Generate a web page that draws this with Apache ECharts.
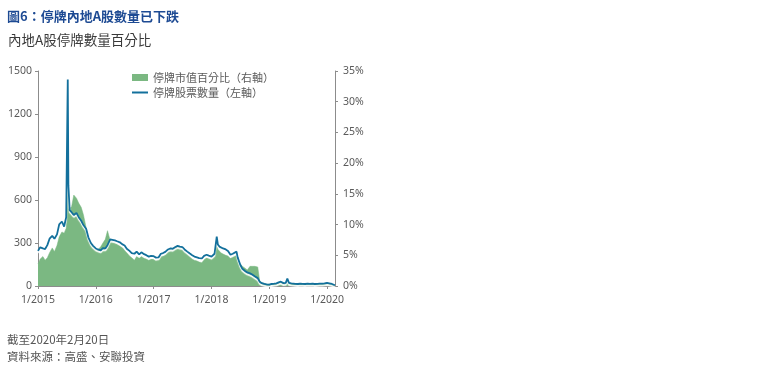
<!DOCTYPE html>
<html><head><meta charset="utf-8">
<script src="https://cdn.jsdelivr.net/npm/echarts@6/dist/echarts.min.js"></script>
<style>html,body{margin:0;padding:0;background:#fff}#c{width:760px;height:375px}</style>
</head><body><div id="c"></div>
<script>
const titleText = '圖6：停牌內地A股數量已下跌';
const subtitleText = '內地A股停牌數量百分比';
const note1 = '截至2020年2月20日';
const note2 = '資料來源：高盛、安聯投資';
const seriesNames = ['停牌市值百分比（右軸）', '停牌股票數量（左軸）'];

const dates = [
'2015-01-01','2015-01-15','2015-02-01','2015-02-15','2015-03-01','2015-03-15','2015-04-01','2015-04-15','2015-05-01','2015-05-15','2015-06-01','2015-06-15','2015-06-28','2015-07-08','2015-07-12','2015-07-20','2015-08-01','2015-08-15','2015-09-01','2015-09-15','2015-10-01','2015-10-15','2015-11-01','2015-11-15','2015-12-01','2015-12-15',
'2016-01-01','2016-01-15','2016-02-01','2016-02-15','2016-03-01','2016-03-15','2016-04-01','2016-04-15','2016-05-01','2016-05-15','2016-06-01','2016-06-15','2016-07-01','2016-07-15','2016-08-01','2016-08-15','2016-09-01','2016-09-15','2016-10-01','2016-10-15','2016-11-01','2016-11-15','2016-12-01','2016-12-15',
'2017-01-01','2017-01-15','2017-02-01','2017-02-15','2017-03-01','2017-03-15','2017-04-01','2017-04-15','2017-05-01','2017-05-15','2017-06-01','2017-06-15','2017-07-01','2017-07-15','2017-08-01','2017-08-15','2017-09-01','2017-09-15','2017-10-01','2017-10-15','2017-11-01','2017-11-15','2017-12-01','2017-12-15',
'2018-01-01','2018-01-20','2018-02-03','2018-02-10','2018-02-20','2018-03-01','2018-03-15','2018-04-01','2018-04-15','2018-05-01','2018-05-15','2018-06-08','2018-06-15','2018-07-01','2018-07-15','2018-08-01','2018-08-15','2018-09-01','2018-09-15','2018-10-01','2018-10-20','2018-11-01','2018-11-15','2018-12-01','2018-12-15',
'2019-01-01','2019-01-15','2019-02-01','2019-02-15','2019-03-01','2019-03-15','2019-04-01','2019-04-15','2019-04-25','2019-05-05','2019-05-20','2019-06-01','2019-06-15','2019-07-01','2019-07-15','2019-08-01','2019-08-15','2019-09-01','2019-09-15','2019-10-01','2019-10-15','2019-11-01','2019-11-15','2019-12-01','2019-12-15',
'2020-01-01','2020-01-15','2020-02-01','2020-02-10','2020-02-20'
];

const suspendedCount = [
245,270,262,258,285,330,350,330,360,430,450,415,480,1441,700,530,515,495,510,480,455,425,400,340,300,280,
262,255,248,265,262,285,325,322,318,312,305,292,283,260,245,230,225,240,220,235,222,215,205,210,
208,198,200,225,230,238,255,262,260,270,280,275,272,255,240,228,215,205,200,195,192,210,218,212,
205,225,345,290,275,268,262,255,245,218,225,240,200,150,120,105,95,88,80,68,55,30,20,15,12,
10,14,16,18,25,30,20,22,52,22,18,16,15,14,17,15,14,16,15,16,14,15,16,17,18,
21,18,14,12,5
];

const suspendedPct = [
3.6,4.4,4.8,4.2,4.6,5.4,6.2,5.6,6.6,8.0,8.8,8.6,9.4,15.6,12.5,12.2,12.9,14.8,14.3,13.5,12.8,11.6,9.5,7.6,6.6,6.2,
5.8,5.9,6.4,7.0,7.6,9.0,7.4,7.3,7.0,6.8,6.5,6.3,5.8,5.4,4.9,4.6,4.2,4.8,4.5,4.8,4.5,4.4,4.2,4.4,
4.4,4.1,4.3,4.9,4.9,5.1,5.6,5.9,5.8,6.1,6.5,6.1,6.0,5.6,5.2,4.8,4.4,4.2,4.1,3.9,3.8,4.3,4.6,4.5,
4.3,4.9,7.5,6.0,5.8,5.4,5.2,5.0,4.9,4.5,4.7,5.0,4.3,3.6,3.2,2.9,2.6,3.2,3.2,3.2,3.1,0.9,0.5,0.4,0.3,
0.3,0.3,0.4,0.4,0.5,0.6,0.4,0.5,0.9,0.5,0.4,0.4,0.3,0.3,0.4,0.3,0.3,0.3,0.3,0.3,0.3,0.3,0.3,0.3,0.3,
0.3,0.3,0.2,0.2,0.1
];

const leftTicks = {min:0, max:1500, interval:300};
const rightTicks = {min:0, max:35, interval:5};
const xStart = '2015-01-01', xEnd = '2020-02-20';

const DAY = 86400000, YEAR = 365.25 * DAY;
const ts = s => Date.UTC(+s.slice(0,4), +s.slice(5,7)-1, +s.slice(8,10));
const x0 = ts(xStart);

const chart = echarts.init(document.getElementById('c'), null, {renderer:'canvas'});
const FONT = '"Noto Sans CJK TC","Noto Sans",sans-serif';
const NUMFONT = '"Noto Sans",sans-serif';
const axisGray = '#8c8c8c';
const labelGray = '#5a5a5a';
const green = '#7bb882';
const blue = '#13709c';

const legendText = {fontSize:11, color:labelGray, fontFamily:FONT};

chart.setOption({
  animation:false,
  textStyle:{fontFamily:FONT},
  grid:{left:38, right:425, top:71, bottom:89},
  legend:[
    {orient:'vertical', left:127, top:67, itemWidth:16, itemHeight:7,
     textStyle:legendText, data:[{name:seriesNames[0], icon:'rect'}]},
    {orient:'vertical', left:127, top:82, itemWidth:16, itemHeight:2,
     textStyle:legendText, data:[{name:seriesNames[1], icon:'rect'}]}
  ],
  xAxis:{
    type:'value', min:x0, max:ts(xEnd), interval:YEAR,
    axisLine:{lineStyle:{color:axisGray}},
    axisTick:{show:true, length:3, lineStyle:{color:axisGray}},
    splitLine:{show:false},
    axisLabel:{fontSize:10.5, color:labelGray, margin:9, fontFamily:NUMFONT,
      showMaxLabel:false,
      formatter:v => '1/' + Math.round(2015 + (v - x0) / YEAR)}
  },
  yAxis:[
    {type:'value', min:leftTicks.min, max:leftTicks.max, interval:leftTicks.interval,
     axisLine:{show:true, lineStyle:{color:axisGray}},
     axisTick:{show:true, length:3, lineStyle:{color:axisGray}},
     splitLine:{show:false},
     axisLabel:{fontSize:10.5, color:labelGray, margin:6, fontFamily:NUMFONT, formatter:v => String(v)}},
    {type:'value', min:rightTicks.min, max:rightTicks.max, interval:rightTicks.interval, position:'right',
     axisLine:{show:true, lineStyle:{color:axisGray}},
     axisTick:{show:true, length:3, lineStyle:{color:axisGray}},
     splitLine:{show:false},
     axisLabel:{fontSize:10.5, color:labelGray, margin:8, formatter:v => v + '%', fontFamily:NUMFONT}}
  ],
  series:[
    {name:seriesNames[0], type:'line', yAxisIndex:1, symbol:'none',
     data:dates.map((d,i)=>[ts(d), suspendedPct[i]]),
     itemStyle:{color:green},
     lineStyle:{width:0.5, color:green},
     areaStyle:{color:green, opacity:1}},
    {name:seriesNames[1], type:'line', yAxisIndex:0, symbol:'none',
     data:dates.map((d,i)=>[ts(d), suspendedCount[i]]),
     itemStyle:{color:blue},
     lineStyle:{width:1.8, color:blue, shadowColor:'#ffffff', shadowBlur:1, shadowOffsetY:2}}
  ],
  graphic:[
    {type:'text', left:7, top:10, style:{text:titleText, font:'bold 13px ' + FONT, fill:'#1d4a93'}},
    {type:'text', left:8, top:33, style:{text:subtitleText, font:'13.5px ' + FONT, fill:'#3a3a3a'}},
    {type:'text', left:7, top:334, style:{text:note1, font:'11.5px ' + FONT, fill:'#555555'}},
    {type:'text', left:7, top:351, style:{text:note2, font:'11.5px ' + FONT, fill:'#555555'}}
  ]
});
</script></body></html>
